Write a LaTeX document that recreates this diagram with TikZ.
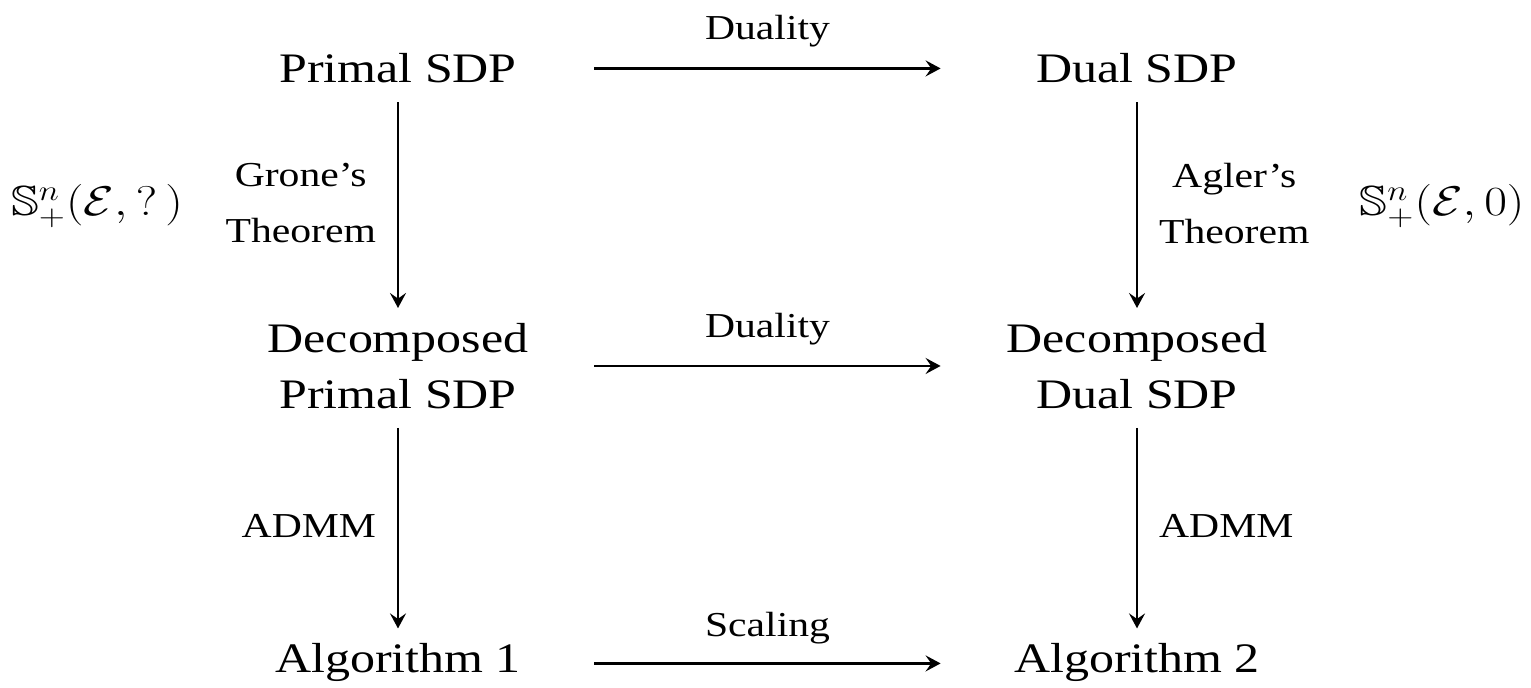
\documentclass[tikz,border=0pt]{standalone}
\usepackage{fontspec}
\setmainfont{Liberation Serif}[FakeStretch=1.19]
\usepackage{amssymb}
\usepackage{graphicx}
\usetikzlibrary{arrows.meta}

\newcommand{\widemath}[1]{\scalebox{1.19}[1]{$#1$}}

\begin{document}
\begin{tikzpicture}[x=0.5pt,y=-0.5pt,
  stage/.style={font=\fontsize{21}{28}\selectfont, align=center,
    minimum width=196pt, inner xsep=0pt, inner ysep=9.5pt, text depth=0pt},
  edgelabel/.style={font=\fontsize{17.5}{28}\selectfont, align=center, inner sep=0pt},
  flow/.style={line width=1.1pt, -{Stealth[length=7.5pt,width=8pt,inset=2.8pt]}},
  down/.style={flow, shorten >=-2pt},
  setlabel/.style={font=\fontsize{21}{26}\selectfont, inner sep=0pt}
]
\useasboundingbox (0,0) rectangle (1531,688);

% the six problem stages
\node[stage, anchor=base]  (primal)  at (398,83)   {Primal SDP};
\node[stage, anchor=base]  (dual)    at (1137,83)  {Dual SDP};
\node[stage, anchor=north] (dprimal) at (398,304)  {Decomposed\\Primal SDP};
\node[stage, anchor=north] (ddual)   at (1137,304) {Decomposed\\Dual SDP};
\node[stage, anchor=base, text depth=5pt] (alg1) at (398,673)  {Algorithm 1};
\node[stage, anchor=base, text depth=5pt] (alg2) at (1137,673) {Algorithm 2};

% duality and scaling across the rows
\draw[flow] (primal.east) -- (dual.west)
  node[edgelabel, midway, anchor=base, yshift=14.5pt] (duality1) {Duality};
\draw[flow] (dprimal.east) -- (ddual.west)
  node[edgelabel, midway, anchor=base, yshift=14pt] (duality2) {Duality};
\draw[flow] (alg1.east) -- (alg2.west)
  node[edgelabel, midway, anchor=base, yshift=13.5pt] (scaling) {Scaling};

% decomposition and splitting down the columns
\draw[down] (primal.south) -- (dprimal.north)
  node[edgelabel, midway, left=10.5pt] (grone) {Grone's\\Theorem};
\draw[down] (dual.south) -- (ddual.north)
  node[edgelabel, midway, right=10.5pt] (agler) {Agler's\\Theorem};
\draw[down] (dprimal.south) -- (alg1.north)
  node[edgelabel, midway, left=10.5pt] (admm1) {ADMM};
\draw[down] (ddual.south) -- (alg2.north)
  node[edgelabel, midway, right=10.5pt] (admm2) {ADMM};

% matrix cones used by each decomposition
\node[setlabel] (coneP) at (97,206)   {\widemath{\mathbb{S}^n_+(\mathcal{E},{?}\,)}};
\node[setlabel] (coneD) at (1442,206) {\widemath{\mathbb{S}^n_+(\mathcal{E},0)}};
\end{tikzpicture}
\end{document}
